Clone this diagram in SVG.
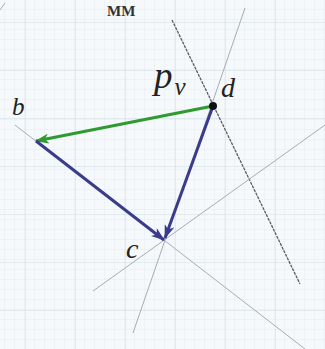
<svg xmlns="http://www.w3.org/2000/svg" width="325" height="349" viewBox="0 0 325 349">
<defs>
<pattern id="minor" width="10" height="10" patternUnits="userSpaceOnUse" x="5" y="0">
<path d="M10 0V10M0 10H10" fill="none" stroke="#e3ebf0" stroke-width="1"/>
</pattern>
<pattern id="major" width="50" height="48" patternUnits="userSpaceOnUse" x="25" y="22">
<path d="M0 0V48M0 0H50" fill="none" stroke="#cddbe3" stroke-width="1"/>
</pattern>
<marker id="ahG" markerWidth="14" markerHeight="10" refX="13" refY="5" orient="auto" markerUnits="userSpaceOnUse">
<path d="M0 0L14 5L0 10L4 5Z" fill="#2f9a2f"/>
</marker>
<marker id="ahB" markerWidth="14" markerHeight="10" refX="13" refY="5" orient="auto" markerUnits="userSpaceOnUse">
<path d="M0 0L14 5L0 10L4 5Z" fill="#3b3b8c"/>
</marker>
</defs>
<style>
.thin{stroke:#a8adb2;stroke-width:1;fill:none}
.dark{stroke:#5a5d62;stroke-width:1.3;fill:none;stroke-dasharray:3 1}
.green{stroke:#2f9a2f;stroke-width:3;fill:none}
.blue{stroke:#3b3b8c;stroke-width:3;fill:none}
.lbl{font-family:"Liberation Serif",serif;font-style:italic;fill:#222}
.mm{font-family:"Liberation Serif",serif;font-weight:bold;font-size:15px;fill:#333}
</style>
<rect width="325" height="349" fill="#f5f9fb"/>
<rect width="325" height="349" fill="url(#minor)"/>
<rect width="325" height="349" fill="url(#major)"/>
<g id="connectors">
<line class="dark" x1="172" y1="20" x2="300" y2="284"/>
<line class="thin" x1="245" y1="8" x2="133" y2="333"/>
<line class="thin" x1="93" y1="291" x2="325" y2="125"/>
<line class="thin" x1="15" y1="125" x2="305" y2="349"/>
<line class="thin" x1="0" y1="10" x2="5" y2="3"/>
<line class="green" x1="213" y1="106" x2="36" y2="141" marker-end="url(#ahG)"/>
<line class="blue" x1="36" y1="141" x2="164" y2="240" marker-end="url(#ahB)"/>
<line class="blue" x1="213" y1="106" x2="165" y2="238" marker-end="url(#ahB)"/>
</g>
<g id="node-d">
<circle cx="213" cy="106" r="4" fill="#111"/>
<text class="lbl" x="221" y="97" font-size="28">d</text>
</g>
<g id="label-pv">
<text class="lbl" x="154" y="88" font-size="37">p<tspan font-size="25" dx="2" dy="7">v</tspan></text>
</g>
<g id="node-b">
<text class="lbl" x="12" y="115" font-size="25">b</text>
</g>
<g id="node-c">
<text class="lbl" x="126" y="258" font-size="28">c</text>
</g>
<g id="label-mm">
<text class="mm" x="107" y="16">MM</text>
</g>
</svg>
